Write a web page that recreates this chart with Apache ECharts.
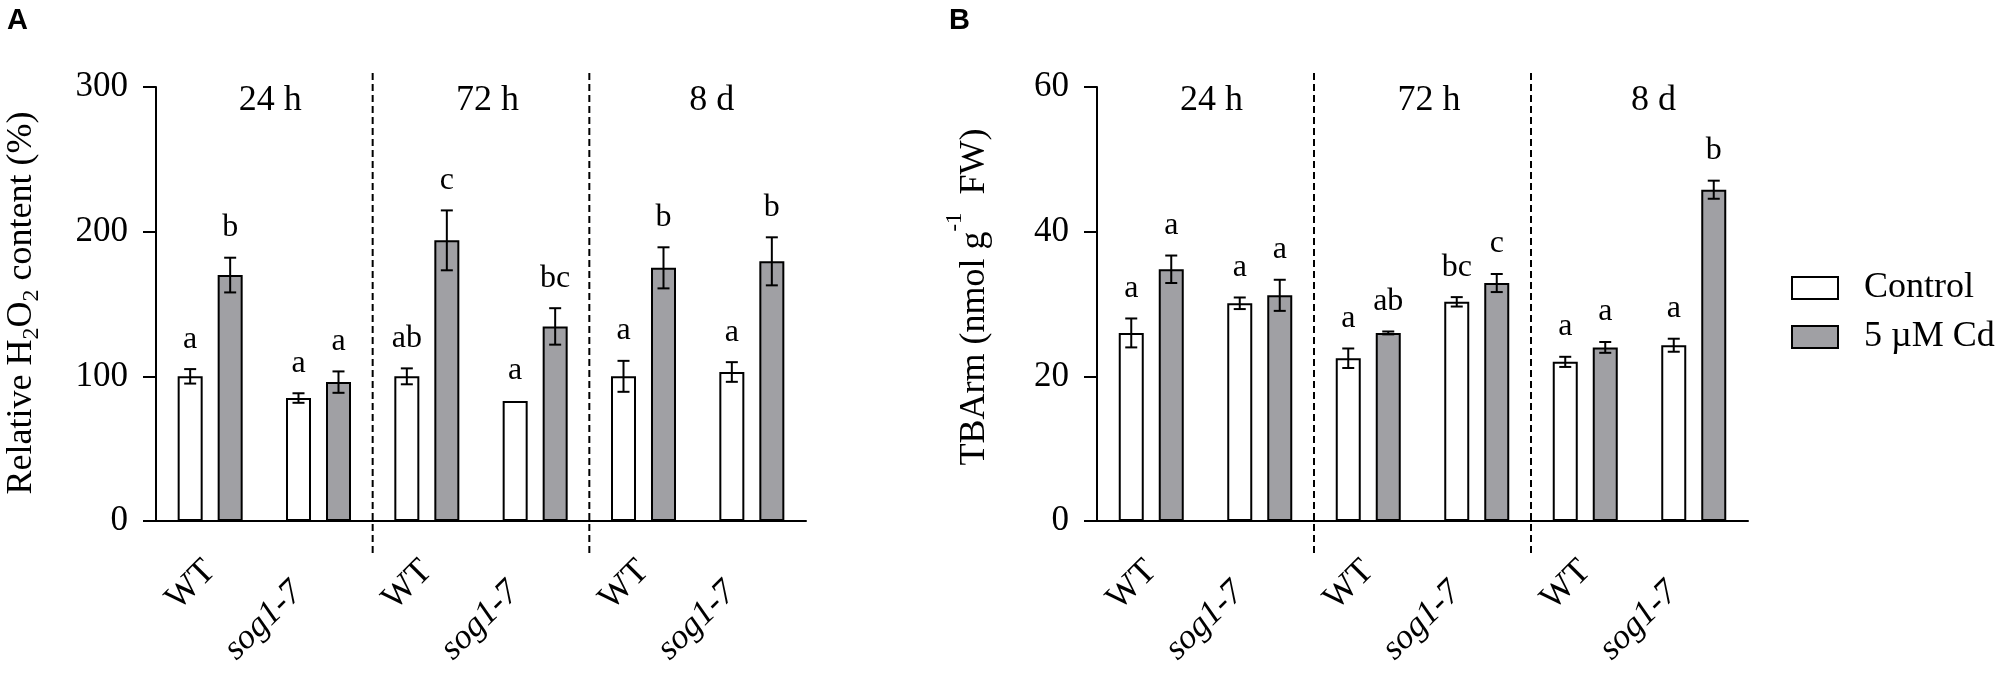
<!DOCTYPE html>
<html><head><meta charset="utf-8">
<script src="https://cdn.jsdelivr.net/npm/echarts@6/dist/echarts.min.js"></script>
<style>html,body{margin:0;padding:0;background:#fff}#c{width:1997px;height:678px}</style>
</head><body><div id="c"></div>
<script>
// ---- data ----
const categories = ['WT', 'sog1-7', 'WT', 'sog1-7', 'WT', 'sog1-7'];
const timeLabels = ['24 h', '72 h', '8 d'];
const seriesNames = ['Control', '5 µM Cd'];
const h2o2Control = [100, 85, 100, 83, 100, 103];
const h2o2ControlSE = [5, 3.3, 5.5, 0, 10.7, 6.8];
const h2o2Cd = [170, 96, 194, 134.5, 175, 179.5];
const h2o2CdSE = [12, 7.4, 20.7, 12.6, 14.2, 16.6];
const h2o2ControlLetters = ['a', 'a', 'ab', 'a', 'a', 'a'];
const h2o2CdLetters = ['b', 'a', 'c', 'bc', 'b', 'b'];
const tbaControl = [26.0, 30.1, 22.5, 30.3, 22.0, 24.3];
const tbaControlSE = [2.0, 0.8, 1.35, 0.65, 0.7, 0.9];
const tbaCd = [34.8, 31.2, 26.0, 32.9, 24.0, 45.8];
const tbaCdSE = [1.9, 2.15, 0.2, 1.25, 0.75, 1.25];
const tbaControlLetters = ['a', 'a', 'a', 'bc', 'a', 'a'];
const tbaCdLetters = ['a', 'a', 'ab', 'c', 'a', 'b'];
const yAxisA = { min: 0, max: 300, interval: 100 };
const yAxisB = { min: 0, max: 60, interval: 20 };

// ---- style ----
const SERIF = "'Liberation Serif', 'Times New Roman', serif";
const FS = 35;
const BAR_W = 25;
const BAR_GAP = 0.6;
const BAR_OFFSET = BAR_W * (1 + BAR_GAP) / 2;
const GREY = '#a0a0a4';
const TIME_SHIFT = [6, 6.5, 14];

function pairs(vals, ses) { return vals.map((v, i) => [i, v, ses[i]]); }

function errRender(letters, side) {
  return function (params, api) {
    const i = api.value(0), v = api.value(1), se = api.value(2);
    const x = api.coord([i, v])[0] + side * BAR_OFFSET;
    const yTop = api.coord([i, v + se])[1];
    const yBot = api.coord([i, v - se])[1];
    const ch = [];
    if (se > 0) {
      const ls = { stroke: '#000', lineWidth: 2 };
      ch.push({ type: 'line', shape: { x1: x, y1: yTop, x2: x, y2: yBot }, style: ls });
      ch.push({ type: 'line', shape: { x1: x - 6, y1: yTop, x2: x + 6, y2: yTop }, style: ls });
      ch.push({ type: 'line', shape: { x1: x - 6, y1: yBot, x2: x + 6, y2: yBot }, style: ls });
    }
    ch.push({ type: 'text', x: x, y: yTop - 14, style: { text: letters[params.dataIndex], fontFamily: SERIF, fontSize: 32, fill: '#000', align: 'center', verticalAlign: 'bottom' } });
    return { type: 'group', children: ch };
  };
}

function groupRender(yMin, yMax) {
  return function (params, api) {
    const k = params.dataIndex;
    const i0 = api.value(0), i1 = api.value(1);
    const a = api.coord([i0, yMax]), b = api.coord([i1, yMax]);
    const mid = (a[0] + b[0]) / 2;
    const ch = [{ type: 'text', x: mid + TIME_SHIFT[k], y: a[1] + 14, style: { text: timeLabels[k], fontFamily: SERIF, fontSize: 36, fill: '#000', align: 'center', verticalAlign: 'middle' } }];
    if (k < timeLabels.length - 1) {
      const c = api.coord([i1 + 1, yMax]);
      const xb = (b[0] + c[0]) / 2;
      const y0 = api.coord([i1, yMin])[1];
      ch.push({ type: 'line', shape: { x1: xb, y1: a[1] - 14, x2: xb, y2: y0 + 34 }, style: { stroke: '#000', lineWidth: 2, lineDash: [7, 4] } });
    }
    return { type: 'group', children: ch };
  };
}

function xAxisCfg(gi) {
  return {
    type: 'category', gridIndex: gi, data: categories,
    axisLine: { lineStyle: { color: '#000', width: 2 } },
    axisTick: { alignWithLabel: true, length: 13, lineStyle: { color: '#000', width: 2 } },
    axisLabel: {
      interval: 0, rotate: 45, margin: 45, color: '#000',
      formatter: v => v === 'WT' ? '{up|WT}' : '{it|' + v + '}',
      rich: {
        up: { fontFamily: SERIF, fontSize: FS, fontStyle: 'normal', color: '#000' },
        it: { fontFamily: SERIF, fontSize: FS, fontStyle: 'italic', color: '#000', padding: [0, 30, 0, 0] }
      }
    },
    splitLine: { show: false }
  };
}
function yAxisCfg(gi, r) {
  return {
    type: 'value', gridIndex: gi, min: r.min, max: r.max, interval: r.interval,
    axisLine: { show: true, lineStyle: { color: '#000', width: 2 } },
    axisTick: { show: true, length: 13, lineStyle: { color: '#000', width: 2 } },
    axisLabel: { margin: 28, color: '#000', fontFamily: SERIF, fontSize: FS },
    splitLine: { show: false }
  };
}
function barSeries(name, vals, xi, color) {
  return {
    type: 'bar', name: name, xAxisIndex: xi, yAxisIndex: xi, data: vals,
    barWidth: BAR_W, barGap: (BAR_GAP * 100) + '%',
    itemStyle: { color: color, borderColor: '#000', borderWidth: 2 },
    emphasis: { disabled: true }, z: 2
  };
}
function errSeries(vals, ses, letters, side, xi) {
  return {
    type: 'custom', xAxisIndex: xi, yAxisIndex: xi, data: pairs(vals, ses),
    encode: { x: 0, y: 1 }, renderItem: errRender(letters, side), z: 5, silent: true
  };
}
function groupSeries(xi, r) {
  return {
    type: 'custom', xAxisIndex: xi, yAxisIndex: xi,
    data: [[0, 1, r.max], [2, 3, r.max], [4, 5, r.max]],
    encode: { x: 0, y: 2 }, renderItem: groupRender(r.min, r.max), z: 6, silent: true
  };
}

const chart = echarts.init(document.getElementById('c'), null, { renderer: 'canvas' });
chart.setOption({
  animation: false,
  backgroundColor: '#fff',
  textStyle: { fontFamily: SERIF },
  grid: [
    { left: 156, top: 87, width: 650, height: 434, containLabel: false, outerBoundsMode: 'none' },
    { left: 1097, top: 87, width: 651, height: 434, containLabel: false, outerBoundsMode: 'none' }
  ],
  xAxis: [xAxisCfg(0), xAxisCfg(1)],
  yAxis: [yAxisCfg(0, yAxisA), yAxisCfg(1, yAxisB)],
  legend: {
    orient: 'vertical', left: 1791, top: 270, padding: 0,
    icon: 'rect', itemWidth: 46, itemHeight: 22, itemGap: 13,
    selectedMode: false,
    textStyle: { fontFamily: SERIF, fontSize: 36, color: '#000', lineHeight: 36, padding: [0, 0, 0, 21] },
    data: [
      { name: seriesNames[0], itemStyle: { color: '#fff', borderColor: '#000', borderWidth: 2 } },
      { name: seriesNames[1], itemStyle: { color: GREY, borderColor: '#000', borderWidth: 2 } }
    ]
  },
  graphic: [
    { type: 'text', left: 7, top: 6, style: { text: 'A', fontFamily: "'Liberation Sans', Arial, sans-serif", fontWeight: 'bold', fontSize: 29, fill: '#000' } },
    { type: 'text', left: 949, top: 6, style: { text: 'B', fontFamily: "'Liberation Sans', Arial, sans-serif", fontWeight: 'bold', fontSize: 29, fill: '#000' } },
    {
      type: 'text', x: 22, y: 303, rotation: Math.PI / 2,
      style: {
        text: '{n|Relative H}{s|2}{n|O}{s|2}{n| content (%)}', align: 'center', verticalAlign: 'middle',
        rich: {
          n: { fontFamily: SERIF, fontSize: 36, lineHeight: 44, verticalAlign: 'middle', fill: '#000' },
          s: { fontFamily: SERIF, fontSize: 24, lineHeight: 23, verticalAlign: 'bottom', fill: '#000' }
        }
      }
    },
    {
      type: 'text', x: 975, y: 297, rotation: Math.PI / 2,
      style: {
        text: '{n|TBArm (nmol g}{p|-1}{n|  FW)}', align: 'center', verticalAlign: 'middle',
        rich: {
          n: { fontFamily: SERIF, fontSize: 36, lineHeight: 64, verticalAlign: 'middle', fill: '#000' },
          p: { fontFamily: SERIF, fontSize: 23, lineHeight: 10, verticalAlign: 'top', fill: '#000' }
        }
      }
    }
  ],
  series: [
    barSeries(seriesNames[0], h2o2Control, 0, '#fff'),
    barSeries(seriesNames[1], h2o2Cd, 0, GREY),
    barSeries(seriesNames[0], tbaControl, 1, '#fff'),
    barSeries(seriesNames[1], tbaCd, 1, GREY),
    errSeries(h2o2Control, h2o2ControlSE, h2o2ControlLetters, -1, 0),
    errSeries(h2o2Cd, h2o2CdSE, h2o2CdLetters, 1, 0),
    errSeries(tbaControl, tbaControlSE, tbaControlLetters, -1, 1),
    errSeries(tbaCd, tbaCdSE, tbaCdLetters, 1, 1),
    groupSeries(0, yAxisA),
    groupSeries(1, yAxisB)
  ]
});
</script></body></html>
